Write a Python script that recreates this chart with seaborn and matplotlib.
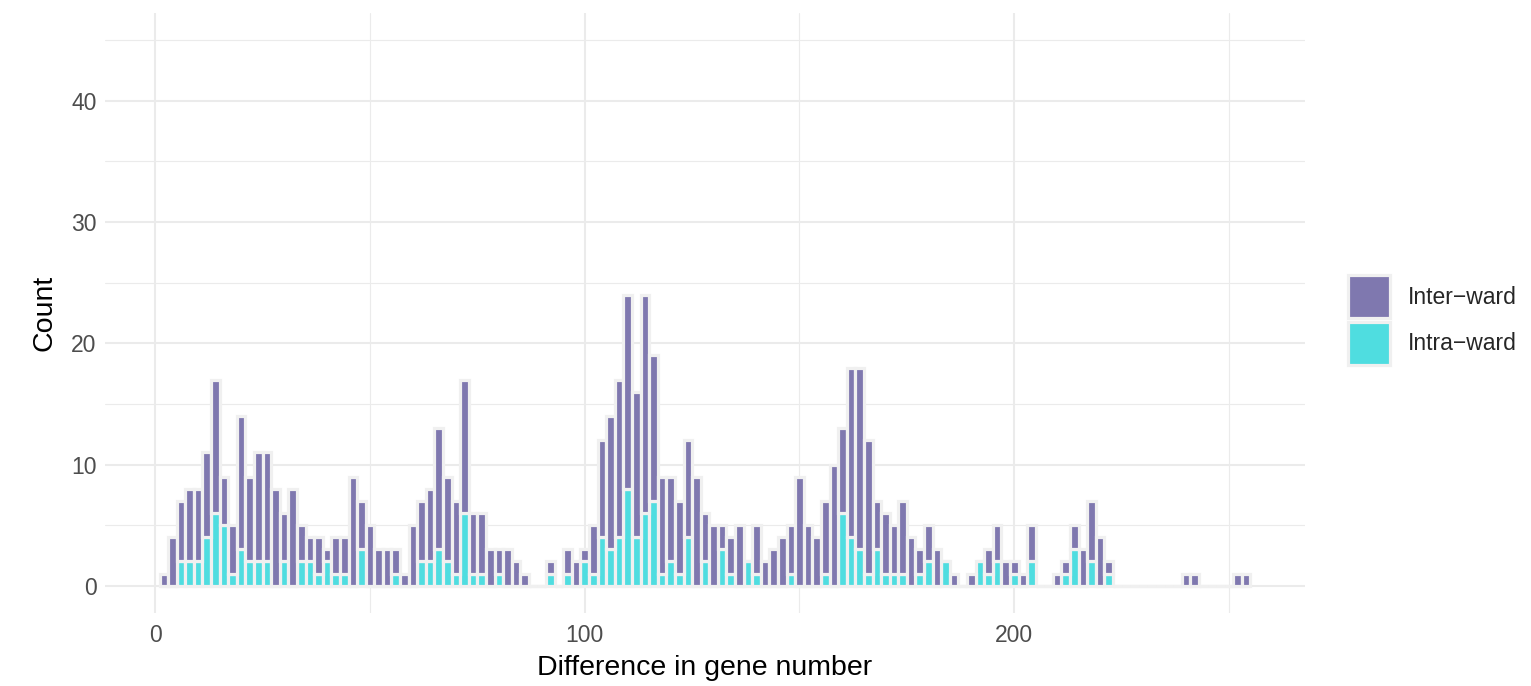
import matplotlib
matplotlib.use("Agg")
import matplotlib.pyplot as plt
from matplotlib.patches import Patch
from matplotlib.ticker import FixedLocator
import pandas as pd
import seaborn as sns

# Bin centres (difference in gene number, bins of width 2)
gene_diff = [2, 4, 6, 8, 10, 12, 14, 16, 18, 20, 22, 24, 26, 28, 30, 32, 34, 36,
             38, 40, 42, 44, 46, 48, 50, 52, 54, 56, 58, 60, 62, 64, 66, 68, 70,
             72, 74, 76, 78, 80, 82, 84, 86, 92, 96, 98, 100, 102, 104, 106, 108,
             110, 112, 114, 116, 118, 120, 122, 124, 126, 128, 130, 132, 134, 136,
             138, 140, 142, 144, 146, 148, 150, 152, 154, 156, 158, 160, 162, 164,
             166, 168, 170, 172, 174, 176, 178, 180, 182, 184, 186, 190, 192, 194,
             196, 198, 200, 202, 204, 210, 212, 214, 216, 218, 220, 222, 240, 242,
             252, 254]

# Pair counts between wards
inter_ward = [1, 4, 5, 6, 6, 7, 11, 4, 4, 11, 7, 9, 9, 8, 4, 8, 3, 2,
              3, 1, 3, 3, 9, 4, 5, 3, 3, 2, 1, 5, 5, 6, 10, 7, 6,
              11, 5, 5, 3, 2, 3, 2, 1, 1, 2, 2, 1, 4, 8, 11, 13,
              16, 12, 18, 12, 8, 7, 6, 8, 9, 4, 5, 2, 3, 5,
              0, 4, 2, 3, 4, 4, 9, 5, 4, 6, 10, 7, 14, 15,
              11, 4, 5, 4, 6, 4, 2, 3, 3, 0, 1, 1, 0, 2,
              3, 2, 1, 1, 3, 1, 1, 2, 3, 5, 4, 1, 1, 1,
              1, 1]

# Pair counts within a ward
intra_ward = [0, 0, 2, 2, 2, 4, 6, 5, 1, 3, 2, 2, 2, 0, 2, 0, 2, 2,
              1, 2, 1, 1, 0, 3, 0, 0, 0, 1, 0, 0, 2, 2, 3, 2, 1,
              6, 1, 1, 0, 1, 0, 0, 0, 1, 1, 0, 2, 1, 4, 3, 4,
              8, 4, 6, 7, 1, 2, 1, 4, 0, 2, 0, 3, 1, 0,
              2, 1, 0, 0, 0, 1, 0, 0, 0, 1, 0, 6, 4, 3,
              1, 3, 1, 1, 1, 0, 1, 2, 0, 2, 0, 0, 2, 1,
              2, 0, 1, 0, 2, 0, 1, 3, 0, 2, 0, 1, 0, 0,
              0, 0]

group_labels = ["Inter\u2212ward", "Intra\u2212ward"]
group_colors = ["#7F78AF", "#4FDDE0"]

rows = []
for x, a, b in zip(gene_diff, inter_ward, intra_ward):
    rows.append((x, group_labels[0], a))
    rows.append((x, group_labels[1], b))
df = pd.DataFrame(rows, columns=["diff", "ward", "n"])
df = df[df["n"] > 0]

sns.set_style("white")
plt.rcParams["font.family"] = ["Liberation Sans", "DejaVu Sans"]

fig = plt.figure(figsize=(15.31, 6.86), dpi=100)
ax = fig.add_axes([105 / 1531, 1 - 613 / 686, 1200 / 1531, 600 / 686])

edge = "#F0F0F0"
sns.histplot(data=df, x="diff", weights="n", hue="ward",
             hue_order=group_labels, palette=dict(zip(group_labels, group_colors)),
             multiple="stack", binwidth=2, binrange=(1, 255),
             alpha=1, edgecolor=edge, linewidth=2.3, legend=False, ax=ax)

ax.set_xlim(-11.7, 267.7)
ax.set_ylim(-2.25, 47.25)
ax.xaxis.set_major_locator(FixedLocator([0, 100, 200]))
ax.xaxis.set_minor_locator(FixedLocator([50, 150, 250]))
ax.yaxis.set_major_locator(FixedLocator([0, 10, 20, 30, 40]))
ax.yaxis.set_minor_locator(FixedLocator([5, 15, 25, 35, 45]))
ax.set_axisbelow(True)
ax.grid(which="major", color="#EBEBEB", linewidth=1.5)
ax.grid(which="minor", color="#EBEBEB", linewidth=0.8)
for s in ax.spines.values():
    s.set_visible(False)
ax.tick_params(which="both", length=0, labelsize=16.5, labelcolor="#4D4D4D")
ax.tick_params(axis="y", pad=6)
ax.tick_params(axis="x", pad=8)

ax.set_xlabel("Difference in gene number", fontsize=20.5, color="black", labelpad=6)
ax.set_ylabel("Count", fontsize=20.5, color="black", labelpad=10)

handles = [Patch(facecolor=c, edgecolor=edge, linewidth=2.3) for c in group_colors]
fig.legend(handles, group_labels, loc="center left",
           bbox_to_anchor=(1348 / 1531, 1 - 320 / 686), frameon=False,
           fontsize=16.5, handlelength=1.85, handleheight=2.5,
           handletextpad=0.75, labelspacing=0.15, borderaxespad=0,
           borderpad=0)

fig.savefig("out.png", dpi=100)
